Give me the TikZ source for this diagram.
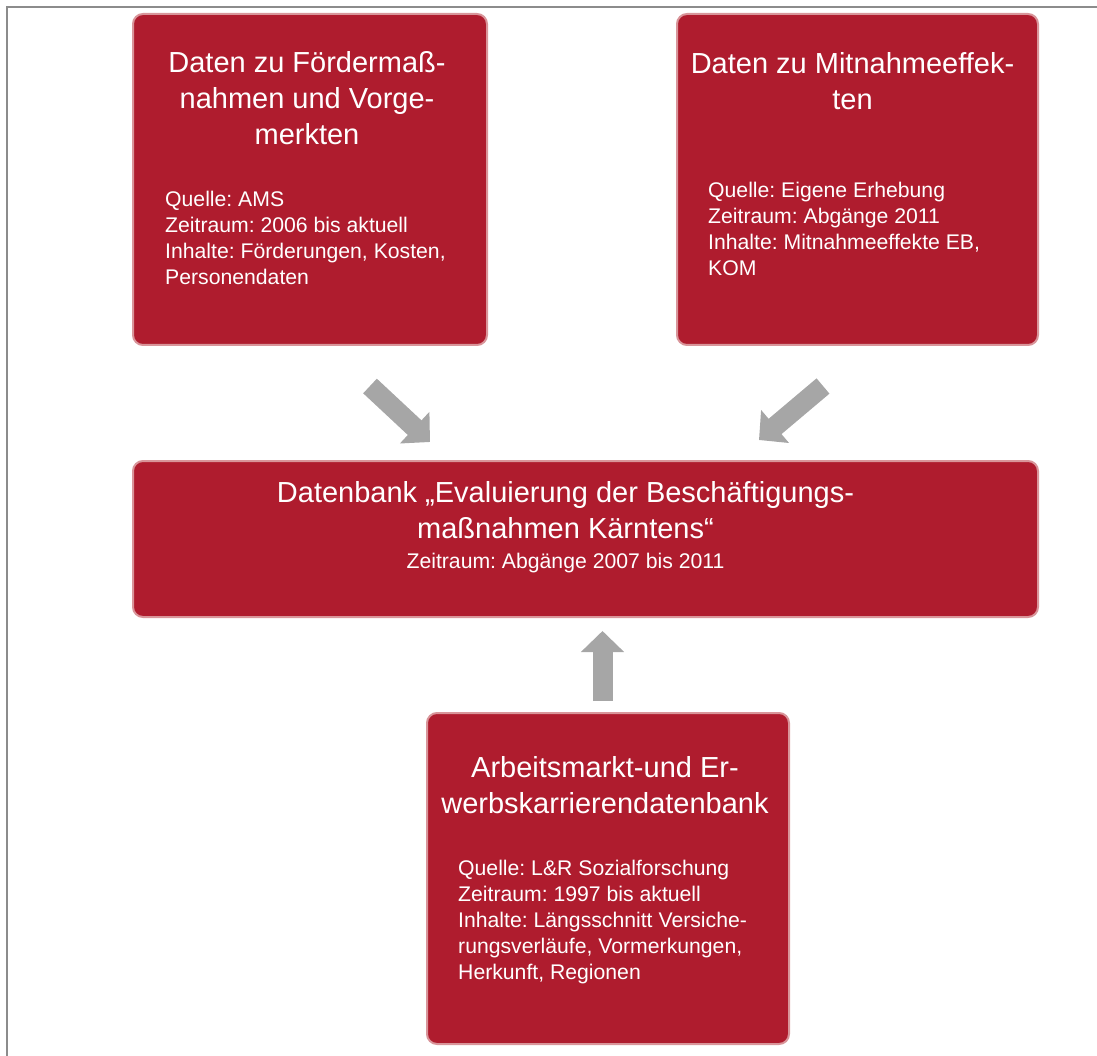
\documentclass[tikz,border=0pt]{standalone}
\usepackage{fontspec}
\setmainfont{Liberation Sans}
\usetikzlibrary{arrows.meta,calc}
\definecolor{boxred}{HTML}{AF1C2E}
\definecolor{boxrim}{HTML}{D9959A}
\definecolor{arrowgray}{HTML}{A6A6A6}
\definecolor{framegray}{HTML}{8C8C8C}
\frenchspacing

\begin{document}
\begin{tikzpicture}[x=1pt,y=-1pt,
   databox/.style={draw=boxrim,fill=boxred,line width=2pt,rounded corners=10pt,inner sep=0pt},
   headtext/.style={text=white,align=center,inner sep=0pt,font=\fontsize{29}{36}\selectfont},
   bodytext/.style={text=white,align=left,inner sep=0pt,font=\fontsize{21.2}{26}\selectfont},
   flowarrow/.style={draw=arrowgray,line width=20pt,-{Triangle[length=21pt,width=42pt]}}
]
\useasboundingbox (0,0) rectangle (1097,1056);
\clip (0,0) rectangle (1097,1056);
\draw[framegray,line width=1.5pt] (7,1100) |- (1120,7);

% the four data boxes
\node[databox,minimum width=354pt,minimum height=331pt] (foerder) at (310,179.5) {};
\node[databox,minimum width=361pt,minimum height=331pt] (mitnahme) at (857.5,179.5) {};
\node[databox,minimum width=905pt,minimum height=156pt] (datenbank) at (585.5,539) {};
\node[databox,minimum width=362pt,minimum height=331pt] (erwerb) at (608,878.5) {};

% texts
\node[headtext,anchor=north] (foerderHead) at ($(foerder.north)+(-3,38.5)$)
  {Daten zu Fördermaß-\\nahmen und Vorge-\\merkten};
\node[bodytext,anchor=north west] (foerderBody) at ($(foerder.north west)+(33,177.5)$)
  {Quelle: AMS\\Zeitraum: 2006 bis aktuell\\Inhalte: Förderungen, Kosten,\\Personendaten};

\node[headtext,anchor=north] (mitnahmeHead) at ($(mitnahme.north)+(-5,39.5)$)
  {Daten zu Mitnahmeeffek-\\ten};
\node[bodytext,anchor=north west] (mitnahmeBody) at ($(mitnahme.north west)+(32,168.5)$)
  {Quelle: Eigene Erhebung\\Zeitraum: Abgänge 2011\\Inhalte: Mitnahmeeffekte EB,\\KOM};

\node[headtext,anchor=north] (datenbankHead) at ($(datenbank.north)+(-20,21.5)$)
  {Datenbank „Evaluierung der Beschäftigungs-\\maßnahmen Kärntens“};
\node[bodytext,anchor=base] (datenbankBody) at ($(datenbank.north)+(-20,108)$)
  {Zeitraum: Abgänge 2007 bis 2011};

\node[headtext,anchor=north] (erwerbHead) at ($(erwerb.north)+(-3,44)$)
  {Arbeitsmarkt-und Er-\\werbskarrierendatenbank};
\node[bodytext,anchor=north west] (erwerbBody) at ($(erwerb.north west)+(32,147.5)$)
  {Quelle: L\&R Sozialforschung\\Zeitraum: 1997 bis aktuell\\Inhalte: Längsschnitt Versiche-\\rungsverläufe, Vormerkungen,\\Herkunft, Regionen};

% arrows between the boxes
\coordinate (foerderTail) at ($(foerder.south)+(60,40)$);
\coordinate (foerderTip) at ($(datenbank.north west)+(298,-18)$);
\coordinate (mitnahmeTail) at ($(mitnahme.south)+(-34.5,40)$);
\coordinate (mitnahmeTip) at ($(datenbank.north)+(173.5,-20)$);
\coordinate (erwerbTail) at ($(erwerb.north)+(-5.5,-11)$);
\coordinate (erwerbTip) at ($(datenbank.south)+(17,13)$);
\draw[flowarrow] (foerderTail) -- (foerderTip);
\draw[flowarrow] (mitnahmeTail) -- (mitnahmeTip);
\draw[flowarrow] (erwerbTail) -- (erwerbTip);
\end{tikzpicture}
\end{document}
